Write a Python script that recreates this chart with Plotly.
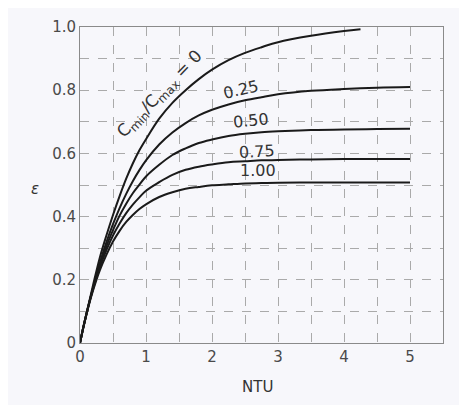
import plotly.graph_objects as go

# Values (effectiveness vs NTU, parallel-flow exchanger)
ntu_0 = [0, 0.05, 0.1, 0.15, 0.2, 0.3, 0.4, 0.5, 0.6, 0.7, 0.8, 0.9, 1.0, 1.2, 1.4, 1.6, 1.8, 2.0,
         2.25, 2.5, 2.75, 3.0, 3.5, 4.0, 4.25]
eps_0 = [0, 0.05, 0.095, 0.14, 0.185, 0.27, 0.34, 0.405, 0.465, 0.52, 0.568, 0.61, 0.645, 0.71, 0.76,
         0.80, 0.835, 0.865, 0.895, 0.918, 0.936, 0.952, 0.972, 0.987, 0.993]

ntu_r = [0, 0.05, 0.1, 0.15, 0.2, 0.3, 0.4, 0.5, 0.6, 0.7, 0.8, 0.9, 1.0, 1.2, 1.4, 1.6, 1.8, 2.0,
         2.25, 2.5, 2.75, 3.0, 3.5, 4.0, 4.5, 5.0]
eps_025 = [0, 0.049, 0.094, 0.136, 0.176, 0.253, 0.319, 0.376, 0.427, 0.472, 0.512, 0.547, 0.578,
           0.628, 0.666, 0.696, 0.72, 0.738, 0.755, 0.768, 0.778, 0.787, 0.798, 0.804, 0.808, 0.81]
eps_050 = [0, 0.049, 0.094, 0.136, 0.176, 0.245, 0.306, 0.357, 0.403, 0.441, 0.474, 0.501, 0.527,
           0.564, 0.595, 0.616, 0.633, 0.644, 0.655, 0.662, 0.667, 0.670, 0.674, 0.676, 0.677, 0.678]
eps_075 = [0, 0.049, 0.094, 0.135, 0.172, 0.239, 0.294, 0.340, 0.378, 0.411, 0.438, 0.461, 0.482,
           0.509, 0.532, 0.548, 0.558, 0.565, 0.572, 0.575, 0.578, 0.579, 0.581, 0.582, 0.582, 0.582]
eps_100 = [0, 0.048, 0.092, 0.132, 0.168, 0.23, 0.279, 0.321, 0.355, 0.383, 0.405, 0.424, 0.439,
           0.462, 0.477, 0.488, 0.494, 0.499, 0.502, 0.505, 0.506, 0.507, 0.508, 0.508, 0.508, 0.508]

series = [(ntu_0, eps_0), (ntu_r, eps_025), (ntu_r, eps_050), (ntu_r, eps_075), (ntu_r, eps_100)]

x_ticks = [0, 1, 2, 3, 4, 5]
y_ticks = [0, 0.2, 0.4, 0.6, 0.8, 1.0]
y_tick_text = ["0", "0.2", "0.4", "0.6", "0.8", "1.0"]

fig = go.Figure()
for xs, ys in series:
    fig.add_trace(go.Scatter(x=xs, y=ys, mode="lines",
                             line=dict(color="#1a1a1a", width=2, shape="spline", smoothing=1.0),
                             hoverinfo="skip", showlegend=False))

txt = "#4a4a4a"
grid = "#aaaaaa"
# page body has an 8px margin: compensate so plot area sits at x 80..443, y 18..343 on screen
fig.update_layout(
    width=467, height=405,
    margin=dict(l=72, r=32, t=10, b=70),
    paper_bgcolor="#f7f7fb", plot_bgcolor="#f7f7fb",
    font=dict(family="DejaVu Sans", color=txt, size=14),
    xaxis=dict(range=[0, 5.5], tickvals=x_ticks, ticktext=[str(v) for v in x_ticks],
               showgrid=True, gridcolor=grid, griddash="dash", gridwidth=1,
               minor=dict(dtick=0.5, showgrid=True, gridcolor=grid, griddash="dash", gridwidth=1),
               zeroline=False, showline=True, linecolor="#8a8a8a", linewidth=1, mirror=True,
               ticks="", tickfont=dict(size=15, color=txt), fixedrange=True),
    yaxis=dict(range=[0, 1.0], tickvals=y_ticks, ticktext=y_tick_text,
               showgrid=True, gridcolor=grid, griddash="dash", gridwidth=1,
               minor=dict(dtick=0.1, showgrid=True, gridcolor=grid, griddash="dash", gridwidth=1),
               zeroline=False, showline=True, linecolor="#8a8a8a", linewidth=1, mirror=True,
               ticks="", tickfont=dict(size=15, color=txt), fixedrange=True),
)

# annotation placement given in screen pixels; converted to plot-area fractions
PL, PT, PW, PH = 80, 18, 363, 325
ann = [
    dict(text="C<sub>min</sub>/C<sub>max</sub> = 0", x=160, y=87, angle=-46, size=17),
    dict(text="0.25", x=241, y=82, angle=-13, size=16),
    dict(text="0.50", x=251, y=114, angle=-6, size=16),
    dict(text="0.75", x=257, y=146, angle=-3, size=16),
    dict(text="1.00", x=258, y=166, angle=0, size=16),
    dict(text="NTU", x=257, y=388, angle=0, size=15),
    dict(text="<i>ε</i>", x=35, y=185, angle=0, size=15),
]
for a in ann:
    fig.add_annotation(text=a["text"], x=(a["x"] - PL) / PW, y=1 - (a["y"] - PT) / PH,
                       xref="paper", yref="paper", showarrow=False, textangle=a["angle"],
                       font=dict(size=a["size"], color="#333333"),
                       xanchor="center", yanchor="middle")

fig.write_html("out.html")
